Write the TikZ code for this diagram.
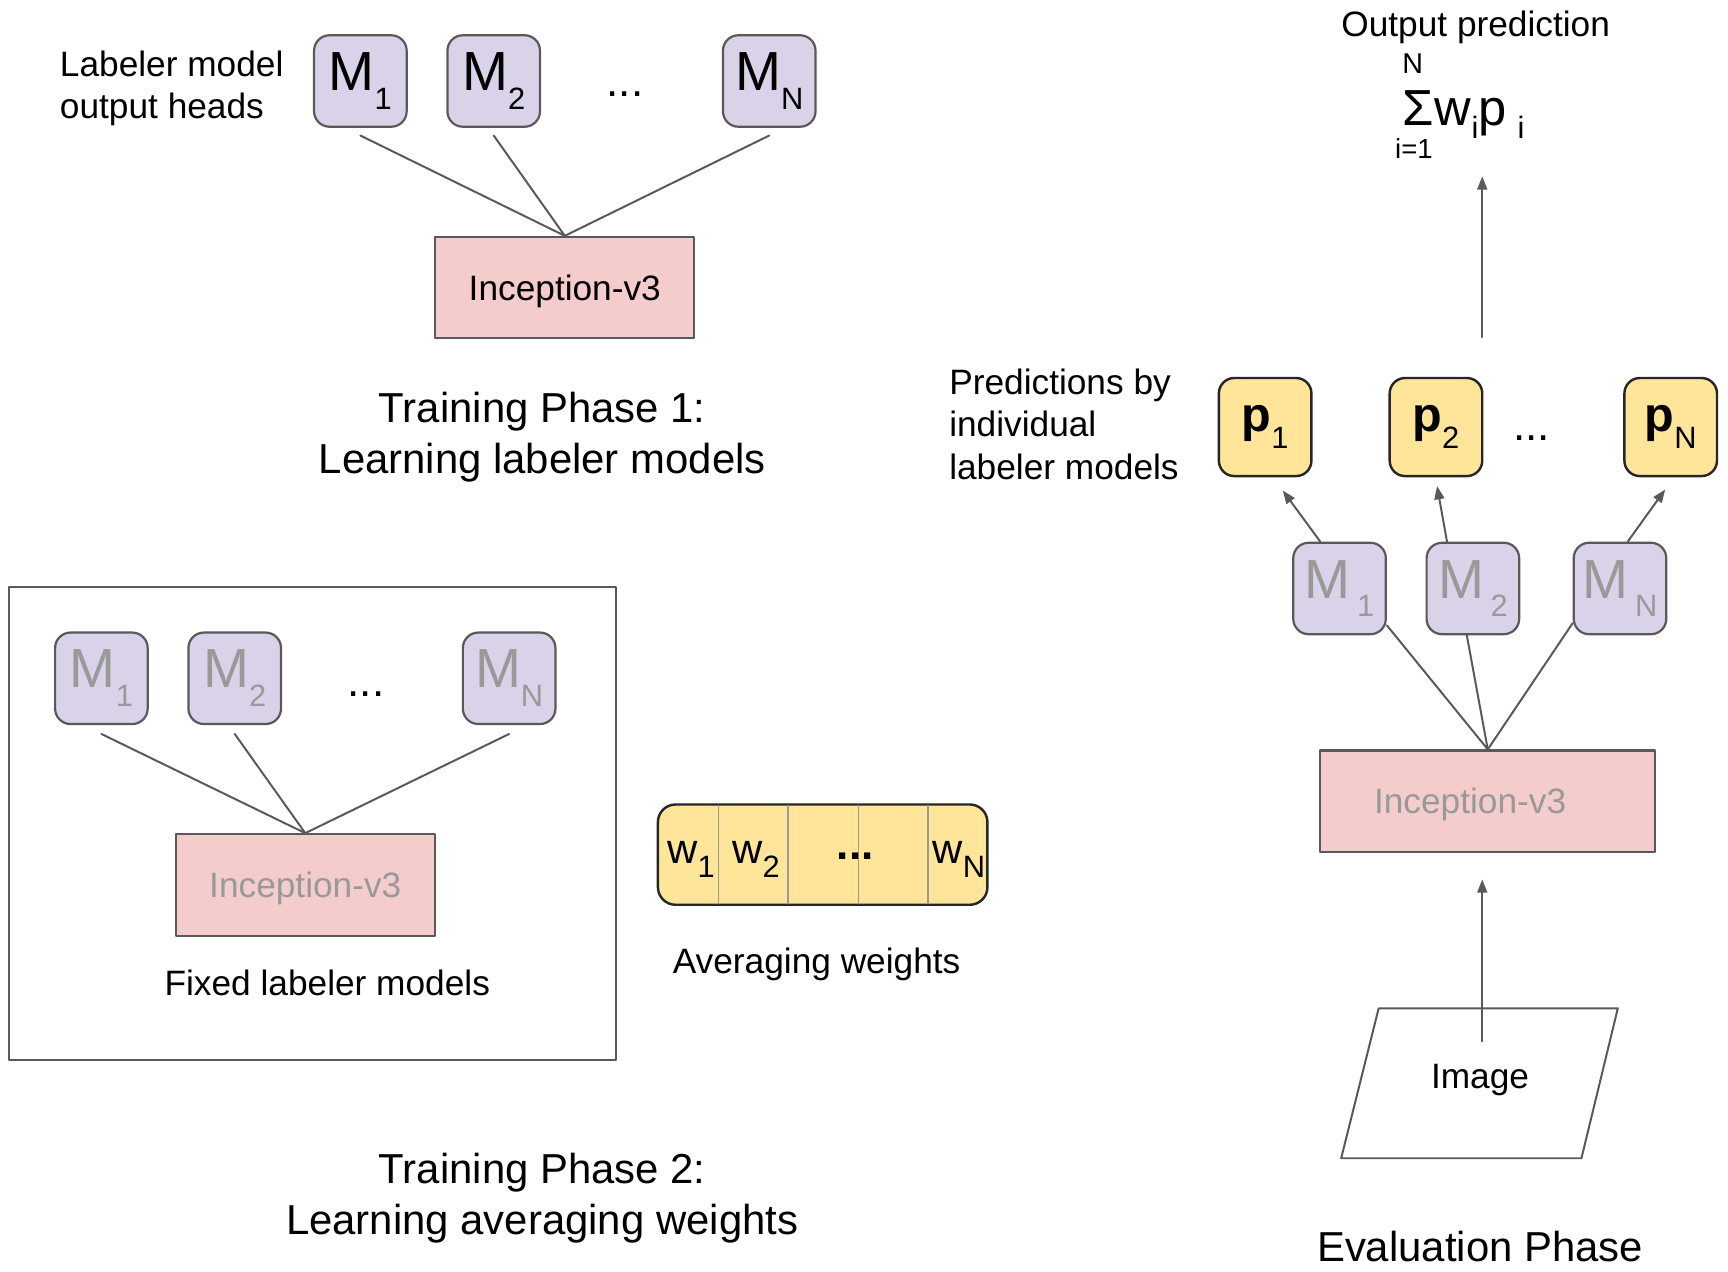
\documentclass[tikz,border=0pt]{standalone}
\usepackage{fontspec}
\setmainfont{Liberation Sans}
\usetikzlibrary{positioning,arrows.meta}

\definecolor{lavend}{HTML}{D9D2E9}
\definecolor{pinkbox}{HTML}{F4CCCC}
\definecolor{yelbox}{HTML}{FFE599}
\definecolor{edgegray}{HTML}{595959}
\definecolor{fadegray}{HTML}{999999}

% lowered small index
\newcommand\sub[2][14]{\raisebox{-0.34em}{\fontsize{#1}{#1}\selectfont\mdseries #2}}

\begin{document}
\begin{tikzpicture}[x=0.5pt,y=-0.5pt, line cap=round, line join=round,
    mbox/.style={draw=edgegray, fill=lavend, line width=1pt, rounded corners=7pt,
      minimum width=42pt, minimum height=41.5pt, inner sep=0pt, font=\fontsize{25}{28}\selectfont},
    mfade/.style={mbox, text=fadegray},
    pbox/.style={draw=black!85, fill=yelbox, line width=1.1pt, rounded corners=7pt,
      minimum width=42pt, minimum height=44.5pt, inner sep=0pt, font=\fontsize{22}{24}\selectfont\bfseries},
    incbox/.style={draw=edgegray, fill=pinkbox, line width=1pt, minimum width=117.5pt,
      minimum height=46pt, inner sep=0pt, text depth=0pt, font=\fontsize{16}{19}\selectfont},
    lbl/.style={font=\fontsize{16}{19.25}\selectfont, inner sep=0pt},
    ttl/.style={font=\fontsize{19}{23}\selectfont, align=center, inner sep=0pt},
    ellip/.style={font=\fontsize{20}{22}\selectfont, inner sep=0pt},
    wlbl/.style={font=\fontsize{19}{21}\selectfont, inner sep=0pt},
    link/.style={draw=edgegray, line width=0.9pt},
    arr/.style={link, -{Triangle[length=6pt,width=4.5pt]}}]
  \useasboundingbox (0,0) rectangle (1568,1154);

  % ===== Training phase 1 =====
  \node[lbl, anchor=west, align=left] (headlbl) at (54,80) {Labeler model\\output heads};
  \node[mbox] (m1) at (327,73.5) {M\sub{1}};
  \node[mbox] (m2) at (448,73.5) {M\sub{2}};
  \node[ellip] (mdots) at (567,85) {...};
  \node[mbox] (mN) at (698,73.5) {M\sub{N}};
  \node[incbox] (inc1) at (512.5,261) {Inception-v3};
  \foreach \m in {m1,m2,mN}{
    \draw[link] ([yshift=-3.5pt]\m.south) -- (inc1.north);
  }
  \node[ttl] (ph1) at (492,396.5) {Training Phase 1:\\Learning labeler models};

  % ===== Training phase 2 =====
  \draw[edgegray, line width=0.9pt] (8,533) rectangle (559,962);
  \node[mfade] (n1) at (92,615.5) {M\sub{1}};
  \node[mfade] (n2) at (213,615.5) {M\sub{2}};
  \node[ellip] (ndots) at (332,630) {...};
  \node[mfade] (nN) at (462,615.5) {M\sub{N}};
  \node[incbox, text=fadegray] (inc2) at (277,803) {Inception-v3};
  \foreach \m in {n1,n2,nN}{
    \draw[link] ([yshift=-4pt]\m.south) -- (inc2.north);
  }
  \node[lbl] (fixlbl) at (297,892) {Fixed labeler models};

  \node[draw=black!85, fill=yelbox, line width=1.1pt, rounded corners=8pt,
    minimum width=149.5pt, minimum height=45.5pt] (wbar) at (746.5,775.5) {};
  \foreach \x in {652,715,779,842}{
    \draw[fadegray, line width=0.8pt] (\x,731) -- (\x,820);
  }
  \node[wlbl] (w1) at (627,780) {w\sub{1}};
  \node[wlbl] (w2) at (686,780) {w\sub{2}};
  \node[ellip] (wdots) at (776,777) {\textbf{...}};
  \node[wlbl] (wN) at (870,780) {w\sub{N}};
  \node[lbl] (avglbl) at (741,875) {Averaging weights};

  \node[ttl] (ph2) at (492,1087) {Training Phase 2:\\Learning averaging weights};

  % ===== Evaluation phase =====
  \node[lbl] (outlbl) at (1339,25) {Output prediction};
  \node[font=\fontsize{23}{25}\selectfont, inner sep=0pt, anchor=base] (sigma) at (1287,114) {Σ};
  \node[font=\fontsize{13}{15}\selectfont, inner sep=0pt] (supN) at (1282,58) {N};
  \node[font=\fontsize{12.5}{14}\selectfont, inner sep=0pt] (lowi) at (1283,135) {i=1};
  \node[font=\fontsize{23}{25}\selectfont, inner sep=0pt, anchor=base west] (wp)
    at (sigma.base east) {w\raisebox{-6pt}{\fontsize{14}{14}\selectfont i}p\hspace{5pt}\raisebox{-6pt}{\fontsize{14}{14}\selectfont i}};
  \coordinate (outfoot) at (1345,306);
  \coordinate (outtip) at (1345,160);
  \draw[arr] (outfoot) -- (outtip);

  \node[lbl, anchor=west, align=left] (predlbl) at (861,385) {Predictions by\\individual\\labeler models};
  \node[pbox] (p1) at (1148,387.5) {p\sub{1}};
  \node[pbox] (p2) at (1303,387.5) {p\sub{2}};
  \node[ellip] (pdots) at (1390,398) {...};
  \node[pbox] (pN) at (1516,387.5) {p\sub{N}};

  \node[mfade] (e1) at (1215.5,534) {M\hspace{3pt}\sub{1}};
  \node[mfade] (e2) at (1336.5,534) {M\hspace{3pt}\sub{2}};
  \node[mfade] (eN) at (1470,534) {M\hspace{3pt}\sub{N}};
  \draw[arr] ([xshift=-8.75pt]e1.north) -- ([xshift=8pt,yshift=-6pt]p1.south);
  \draw[arr] ([xshift=-11.75pt]e2.north) -- ([xshift=0.5pt,yshift=-4pt]p2.south);
  \draw[arr] ([xshift=3.5pt]eN.north) -- ([xshift=-2.5pt,yshift=-5.5pt]pN.south);

  \node[incbox, text=fadegray, minimum width=152pt] (inc3) at (1350,727) {Inception-v3\hspace*{16pt}};
  \draw[link] ([yshift=4.5pt]e1.south east) -- (inc3.north);
  \draw[link] ([xshift=-2.75pt]e2.south) -- (inc3.north);
  \draw[link] ([yshift=5.5pt]eN.south west) -- (inc3.north);

  \draw[edgegray, line width=0.9pt] (1251,915) -- (1468,915) -- (1435,1051) -- (1217,1051) -- cycle;
  \node[lbl] (imglbl) at (1343,980) {Image};
  \coordinate (imgfoot) at (1345,945);
  \draw[arr, shorten >=12pt] (imgfoot) -- (imgfoot |- inc3.south);

  \node[ttl] (evalttl) at (1343,1131) {Evaluation Phase};
\end{tikzpicture}
\end{document}
